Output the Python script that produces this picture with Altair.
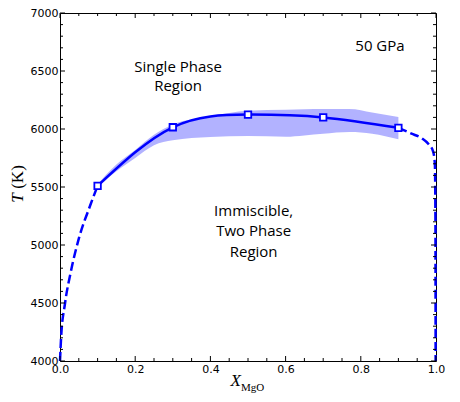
import altair as alt
import pandas as pd

# ---- data ----
x_markers = [0.1, 0.3, 0.5, 0.7, 0.9]
t_markers = [5510, 6015, 6124, 6100, 6010]

band_x = [0.1, 0.15, 0.2, 0.25, 0.3, 0.4, 0.5, 0.6, 0.65, 0.7, 0.77, 0.83, 0.9]
band_lo = [5495, 5635, 5750, 5860, 5903, 5932, 5940, 5934, 5945, 5960, 5975, 5960, 5912]
band_hi = [5525, 5695, 5820, 5950, 6038, 6110, 6158, 6167, 6170, 6172, 6172, 6142, 6104]

left_x = [0.0, 0.003, 0.013, 0.029, 0.05, 0.08, 0.1]
left_t = [4000, 4206, 4489, 4772, 5055, 5338, 5510]
right_x = [0.9, 0.935, 0.962, 0.98, 0.992, 0.997, 0.9985, 0.999]
right_t = [6010, 5960, 5920, 5870, 5810, 5700, 5200, 4000]

x_major = [0.0, 0.2, 0.4, 0.6, 0.8, 1.0]
x_minor = [0.05, 0.1, 0.15, 0.25, 0.3, 0.35, 0.45, 0.5, 0.55, 0.65, 0.7, 0.75, 0.85, 0.9, 0.95]
y_major = [4000, 4500, 5000, 5500, 6000, 6500, 7000]
y_minor = [4100, 4200, 4300, 4400, 4600, 4700, 4800, 4900, 5100, 5200, 5300, 5400,
           5600, 5700, 5800, 5900, 6100, 6200, 6300, 6400, 6600, 6700, 6800, 6900]

ann_text = ["Single Phase", "Region", "50 GPa", "Immiscible,", "Two Phase", "Region"]
ann_x = [0.314, 0.314, 0.851, 0.515, 0.515, 0.515]
ann_t = [6537, 6368, 6716, 5290, 5120, 4942]

W, H = 376, 348
BLUE = "#0000ff"

xs = alt.Scale(domain=[0, 1], nice=False, zero=False)
ys = alt.Scale(domain=[4000, 7000], nice=False, zero=False)

x_axis = alt.Axis(values=x_major, format=".1f", title=None, ticks=False, tickSize=0,
                  domain=False, grid=False, labelFont="DejaVu Sans", labelFontSize=11,
                  labelColor="black", labelPadding=2, labelFlush=False, labelOverlap=False)
y_axis = alt.Axis(values=y_major, format="d", title=None, ticks=False, tickSize=0,
                  domain=False, grid=False, labelFont="DejaVu Sans", labelFontSize=11,
                  labelColor="black", labelPadding=2, labelFlush=False, labelOverlap=False)


def X(field):
    return alt.X(field, scale=xs, axis=x_axis)


def Y(field):
    return alt.Y(field, scale=ys, axis=y_axis)


band_df = pd.DataFrame({"x": band_x, "lo": band_lo, "hi": band_hi})
dash_df = pd.DataFrame({
    "x": left_x + right_x,
    "t": left_t + right_t,
    "seg": ["L"] * len(left_x) + ["R"] * len(right_x),
})
pts_df = pd.DataFrame({"x": x_markers, "t": t_markers})
ann_df = pd.DataFrame({"x": ann_x, "t": ann_t, "label": ann_text})

band = alt.Chart(band_df).mark_area(color=BLUE, opacity=0.3, interpolate="monotone").encode(
    x=X("x:Q"), y=Y("lo:Q"), y2="hi:Q",
)

dashed = alt.Chart(dash_df).mark_line(color=BLUE, strokeWidth=2.5, strokeDash=[9, 4],
                                      interpolate="monotone").encode(
    x=X("x:Q"), y=Y("t:Q"), detail="seg:N",
)

solid = alt.Chart(pts_df).mark_line(color=BLUE, strokeWidth=2.5, interpolate="natural").encode(
    x=X("x:Q"), y=Y("t:Q"),
)

points = alt.Chart(pts_df).mark_point(shape="square", filled=True, fill="white", stroke=BLUE,
                                      strokeWidth=1.8, size=42, opacity=1).encode(
    x=X("x:Q"), y=Y("t:Q"),
)

ann = alt.Chart(ann_df).mark_text(font="Open Sans", fontSize=15, color="black").encode(
    x=X("x:Q"), y=Y("t:Q"), text="label:N",
)


def xticks(vals, length):
    d = pd.DataFrame({"v": vals})
    bottom = alt.Chart(d).mark_rule(color="black", strokeWidth=1).encode(
        x=X("v:Q"), y=alt.value(H), y2=alt.value(H - length))
    top = alt.Chart(d).mark_rule(color="black", strokeWidth=1).encode(
        x=X("v:Q"), y=alt.value(0), y2=alt.value(length))
    return [bottom, top]


def yticks(vals, length):
    d = pd.DataFrame({"v": vals})
    left = alt.Chart(d).mark_rule(color="black", strokeWidth=1).encode(
        y=Y("v:Q"), x=alt.value(0), x2=alt.value(length))
    right = alt.Chart(d).mark_rule(color="black", strokeWidth=1).encode(
        y=Y("v:Q"), x=alt.value(W), x2=alt.value(W - length))
    return [left, right]


one = alt.Data(values=[{"a": 1}])
x_title = alt.Chart(one).mark_text(text="X", font="Liberation Serif", fontStyle="italic",
                                    fontSize=17, color="black", align="right",
                                    baseline="alphabetic").encode(
    x=alt.value(181), y=alt.value(373))
x_sub = alt.Chart(one).mark_text(text="MgO", font="Liberation Serif", fontSize=11,
                                  color="black", align="left", baseline="alphabetic").encode(
    x=alt.value(181), y=alt.value(378))
y_t = alt.Chart(one).mark_text(text="T", font="Liberation Serif", fontStyle="italic",
                                fontSize=17, color="black", angle=270, align="center",
                                baseline="middle").encode(
    x=alt.value(-42), y=alt.value(185))
y_k = alt.Chart(one).mark_text(text="(K)", font="Liberation Serif", fontSize=17,
                                color="black", angle=270, align="center",
                                baseline="middle").encode(
    x=alt.value(-42), y=alt.value(164))

layers = [band, dashed, solid, points, ann]
layers += xticks(x_major, 5) + xticks(x_minor, 3)
layers += yticks(y_major, 5) + yticks(y_minor, 3)
layers += [x_title, x_sub, y_t, y_k]

chart = alt.layer(*layers).properties(
    width=W, height=H,
    autosize=alt.AutoSizeParams(type="none"),
    padding={"left": 52, "top": 5, "right": 10, "bottom": 33},
).configure_view(stroke="black", strokeWidth=1)

chart.save("out.html", embed_options={"renderer": "svg", "actions": False})
